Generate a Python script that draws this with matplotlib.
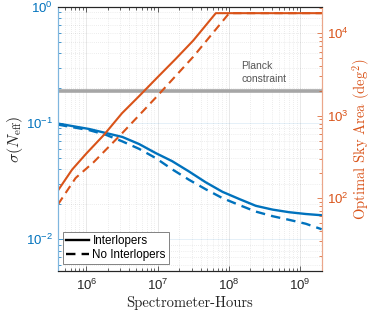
import numpy as np
import matplotlib
matplotlib.use("Agg")
import matplotlib.pyplot as plt
from matplotlib.ticker import LogLocator, LogFormatterSciNotation, NullFormatter
from matplotlib.lines import Line2D

plt.rcParams['font.family'] = ['Liberation Sans', 'DejaVu Sans']
plt.rcParams['mathtext.fontset'] = 'custom'
plt.rcParams['mathtext.rm'] = 'Liberation Sans'
plt.rcParams['mathtext.it'] = 'Liberation Sans:italic'
plt.rcParams['mathtext.bf'] = 'Liberation Sans:bold'

BLUE = '#0072BD'
ORANGE = '#D95319'

# sigma(N_eff) vs spectrometer-hours
hours_sig = [4e5, 1.09e6, 1.87e6, 3.21e6, 5.5e6, 9.4e6, 1.6e7, 2.76e7, 4.7e7,
             8.13e7, 1.4e8, 2.39e8, 4.1e8, 7.0e8, 1.2e9, 2e9]
sig_inter = [0.099, 0.089, 0.0822, 0.0759, 0.066, 0.0552, 0.047, 0.0383, 0.031,
             0.0256, 0.0222, 0.0194, 0.0180, 0.0171, 0.0165, 0.0161]
sig_nointer = [0.097, 0.087, 0.0794, 0.0695, 0.060, 0.050, 0.040, 0.0325, 0.027,
               0.0226, 0.0197, 0.0173, 0.0158, 0.0147, 0.0136, 0.0122]

# optimal sky area
hours_area_i = [4e5, 6.31e5, 1e6, 1.78e6, 3.16e6, 5.62e6, 1e7, 1.78e7, 3.16e7,
                6.55e7, 2e9]
area_inter = [124, 222, 348, 590, 1070, 1760, 2930, 4850, 8150, 17500, 17500]
hours_area_n = [4e5, 7.08e5, 1.26e6, 3.16e6, 1e7, 3.16e7, 1.01e8, 2e9]
area_nointer = [84, 176, 272, 610, 1750, 5180, 17500, 17500]

planck = 0.19

fig = plt.figure(figsize=(3.74, 3.13), dpi=100)
ax = fig.add_axes([0.155, 0.135, 0.705, 0.843])
ax2 = ax.twinx()

dash = (0, (4, 2.6))
ax.axhline(planck, color='#a6a6a6', lw=2.6, zorder=2)
ax.plot(hours_sig, sig_inter, color=BLUE, lw=1.7, zorder=3)
ax.plot(hours_sig, sig_nointer, color=BLUE, lw=1.7, ls=dash, zorder=3)
ax2.plot(hours_area_i, area_inter, color=ORANGE, lw=1.5)
ax2.plot(hours_area_n, area_nointer, color=ORANGE, lw=1.5, ls=dash)

ax.set_xscale('log')
ax.set_yscale('log')
ax2.set_yscale('log')
ax.set_xlim(4e5, 2e9)
ax.set_ylim(0.00536, 1.0)
ax2.set_ylim(13.2, 20850)

ax.xaxis.set_major_locator(LogLocator(base=10, numticks=20))
ax.xaxis.set_minor_locator(LogLocator(base=10, subs=np.arange(2, 10), numticks=50))
ax.xaxis.set_minor_formatter(NullFormatter())
for a in (ax, ax2):
    a.yaxis.set_major_locator(LogLocator(base=10, numticks=20))
    a.yaxis.set_minor_locator(LogLocator(base=10, subs=np.arange(2, 10), numticks=50))
    a.yaxis.set_minor_formatter(NullFormatter())
    a.yaxis.set_major_formatter(LogFormatterSciNotation())

ax.tick_params(axis='x', which='both', direction='in', top=True, colors='#262626',
               labelsize=9.5, pad=5)
ax.tick_params(axis='x', which='major', length=3.5, width=0.5)
ax.tick_params(axis='x', which='minor', length=2, width=0.5)
ax.tick_params(axis='y', which='both', direction='in', colors=BLUE, labelsize=9.5,
               left=True, right=False)
ax.tick_params(axis='y', which='major', length=3.5, width=0.5)
ax.tick_params(axis='y', which='minor', length=2, width=0.5)
ax2.tick_params(axis='y', which='both', direction='in', colors=ORANGE, labelsize=9.5,
                right=True, left=False)
ax2.tick_params(axis='y', which='major', length=3.5, width=0.5)
ax2.tick_params(axis='y', which='minor', length=2, width=0.5)

ax.grid(True, which='major', color='#262626', alpha=0.12, lw=0.6, ls='-')
ax.grid(True, which='minor', color='#262626', alpha=0.16, lw=0.5, ls=(0, (1, 2)))
ax.yaxis.grid(True, which='major', color=BLUE, alpha=0.12, lw=0.6)
ax.set_axisbelow(True)

for a in (ax, ax2):
    a.spines['top'].set_color('#262626')
    a.spines['bottom'].set_color('#262626')
    a.spines['left'].set_color('#7fb6de')
    a.spines['right'].set_color('#eba68a')
    for s in a.spines.values():
        s.set_linewidth(0.8)

ax.set_xlabel('Spectrometer-Hours', family='cmr10', fontsize=10.5, color='#262626',
              labelpad=2)
ax.set_ylabel(r'$\sigma(N_{\rm eff})$', math_fontfamily='cm', fontsize=11.5,
              color='#262626', labelpad=1)
ax2.set_ylabel(r'Optimal Sky Area (deg$^2$)', family='cmr10', math_fontfamily='cm',
               fontsize=10.5, color=ORANGE, labelpad=1)

ax.text(1.5e8, 0.272, 'Planck\nconstraint', fontsize=7.5, color='#555555',
        ha='left', va='center', linespacing=1.3, zorder=4)

handles = [Line2D([], [], color='black', lw=1.7),
           Line2D([], [], color='black', lw=1.7, ls=dash)]
leg = ax.legend(handles, ['Interlopers', 'No Interlopers'], loc='lower left',
                bbox_to_anchor=(0.02, 0.025), fontsize=8.4, frameon=True,
                fancybox=False, edgecolor='#6e6e6e', framealpha=1,
                handlelength=2.0, handletextpad=0.25, borderpad=0.25,
                labelspacing=0.2, borderaxespad=0.0)
leg.get_frame().set_linewidth(0.6)
leg.set_zorder(10)

fig.savefig('out.png', dpi=100)
